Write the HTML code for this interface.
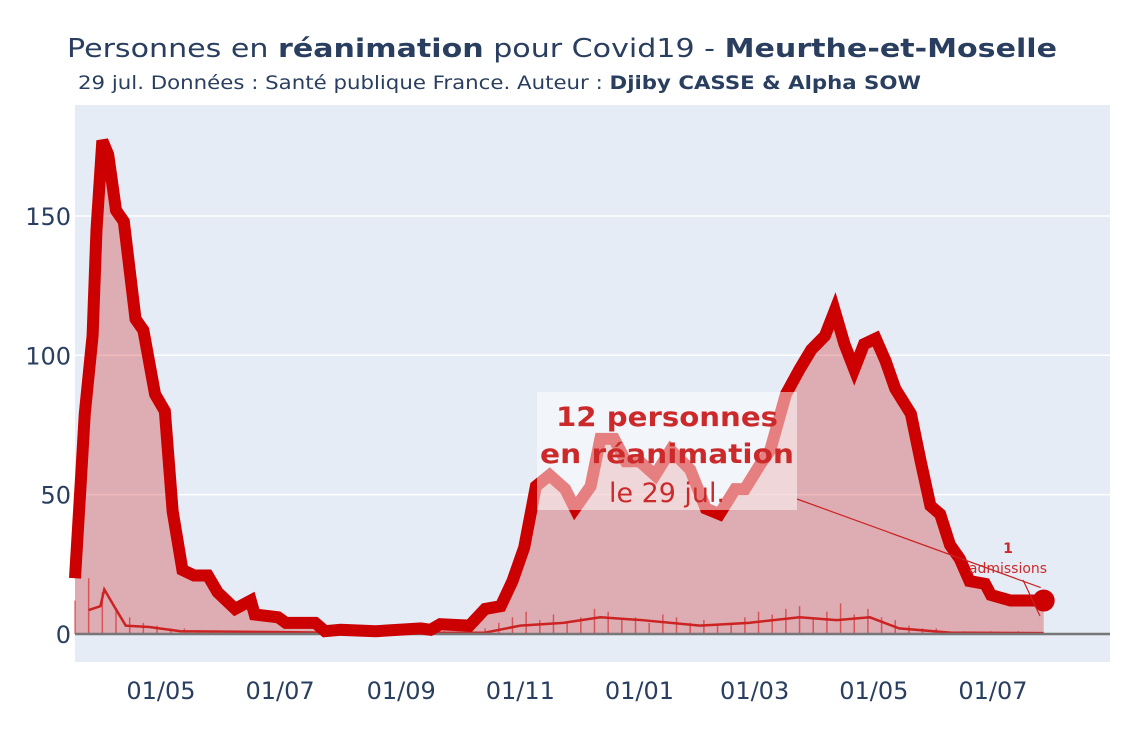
<!DOCTYPE html>
<html><head><meta charset="utf-8"><style>
body{margin:0;background:#fff;}
svg text{font-family:"DejaVu Sans","Liberation Sans",sans-serif;}
</style></head><body>
<svg id="chart" width="1125" height="750">
<rect x="0" y="0" width="1125" height="750" fill="#fff"/>
<rect x="75" y="105" width="1035" height="557" fill="#e5ecf6"/>
<text x="67" y="57" font-size="26" fill="#2a3f5f" textLength="990" lengthAdjust="spacingAndGlyphs">Personnes en <tspan font-weight="bold">réanimation</tspan> pour Covid19 - <tspan font-weight="bold">Meurthe-et-Moselle</tspan></text>
<text x="78" y="89" font-size="19" fill="#2a3f5f" textLength="843" lengthAdjust="spacingAndGlyphs">29 jul. Données : Santé publique France. Auteur : <tspan font-weight="bold">Djiby CASSE &amp; Alpha SOW</tspan></text>
<g id="grid"></g><g id="marks"></g><g id="axes"></g>
</svg>
<script>
const NS='http://www.w3.org/2000/svg';
// day offsets since 2020-03-18 and ICU patients
const reaDays=[0,3,5,9,11,14,17,21,25,31,35,41,46,50,55,61,68,73,82,90,92,104,108,123,128,136,154,177,182,187,202,210,218,224,230,236,243,251,256,264,269,276,282,289,297,305,315,323,330,338,343,351,356,364,371,377,384,389,394,399,404,410,415,420,428,433,438,443,448,453,458,466,469,479,496];
const reaValues=[20,55,79,107,145,177,172,152,148,113,109,86,80,44,23,21,21,15,9,12,7,6,4,4,1,1.5,1,2,1.5,3.5,3,9,10,19,31,53,57,52,45,53,70,70,62,62,57,66,59,45,43,52,52,61,66,86,95,102,107,116,104,95,104,106,98,88,79,62,46,43,32,27,19,18,14,12,12];
// rolling average of daily admissions
const avgDays=[7,13,15,20,26,38,54,100,150,210,228,250,269,290,320,345,371,390,407,422,448,496];
const avgValues=[8.6,10,16,10,3,2.5,1,0.7,0.3,0.5,3,4,6,5,3,4,6,5,6,2,0.5,0.3];
// daily admissions sampled weekly (day = index*7)
const admValues=[12,20,15,9,6,4,3,2,2,1,1,1,0,1,0,0,0,0,0,0,0,0,0,0,0,0,0,1,1,1,2,4,6,8,5,7,4,6,9,8,5,6,4,7,6,4,5,3,4,6,8,7,9,10,6,8,11,7,9,6,5,3,2,2,1,1,0,1,0,1,0,0];
const yTicks=[0,50,100,150];
const xTickDays=[44,105,167,228,289,348,409,470];
const xTickLabels=['01/05','01/07','01/09','01/11','01/01','01/03','01/05','01/07'];
const X=d=>75+d*1.953, Y=v=>634-v*2.787;
function el(t,a,p){const e=document.createElementNS(NS,t);for(const k in a)e.setAttribute(k,a[k]);document.getElementById(p).appendChild(e);return e;}
yTicks.forEach((v,i)=>{
  if(v>0){const g=el('line',{x1:75,x2:1110,y1:Y(v),y2:Y(v),stroke:'#fff','stroke-width':1.5},'grid');
  
  }
  const t=el('text',{x:71,y:Y(v)+9,'text-anchor':'end','font-size':24,fill:'#2a3f5f'},'axes');t.textContent=v;
  
  
});
xTickDays.forEach((d,i)=>{
  const t=el('text',{x:X(d),y:699,'text-anchor':'middle','font-size':24,fill:'#2a3f5f'},'axes');t.textContent=xTickLabels[i];
  
  
});
let pts=reaDays.map((d,i)=>X(d)+','+Y(reaValues[i]));
const last=reaDays.length-1;
const area=el('polygon',{points:X(0)+','+Y(0)+' '+pts.join(' ')+' '+X(reaDays[last])+','+Y(0),fill:'rgba(204,0,0,0.27)'},'marks');


admValues.forEach((v,i)=>{
  const b=el('line',{x1:X(i*7),x2:X(i*7),y1:Y(0),y2:Y(v),stroke:'rgba(204,0,0,0.5)','stroke-width':1.5},'marks');
  
  
});
const avg=el('polyline',{points:avgDays.map((d,i)=>X(d)+','+Y(avgValues[i])).join(' '),fill:'none',stroke:'#cc2222','stroke-width':2.5},'marks');


const zl=el('line',{x1:75,x2:1110,y1:Y(0),y2:Y(0),stroke:'#777','stroke-width':2.5},'marks');


const ln=el('polyline',{points:pts.join(' '),fill:'none',stroke:'#cc0000','stroke-width':12,'stroke-linejoin':'miter'},'marks');


const ex=X(reaDays[last]), ey=Y(reaValues[last]);
const dot=el('circle',{cx:ex,cy:ey,r:11,fill:'#cc0000'},'marks');


const a1=el('line',{x1:797,y1:499,x2:ex-3,y2:ey-13,stroke:'#cc2222','stroke-width':1.2},'marks');


const bx=el('rect',{x:537,y:392,width:260,height:118,fill:'rgba(255,255,255,0.5)'},'marks');


[['12 personnes',426,'bold',222],['en réanimation',463,'bold',254],['le 29 jul.',502,'normal',116]].forEach(r=>{
  const t=el('text',{x:667,y:r[1],'text-anchor':'middle','font-size':27,'font-weight':r[2],fill:'#cc2a2a',textLength:r[3],lengthAdjust:'spacingAndGlyphs'},'marks');t.textContent=r[0];
  
  
});
const a2=el('line',{x1:1023,y1:580,x2:1040,y2:616,stroke:'#cc2222','stroke-width':1.2},'marks');


[['1',553,'bold'],['admissions',573,'normal']].forEach(r=>{
  const t=el('text',{x:1008,y:r[1],'text-anchor':'middle','font-size':14,'font-weight':r[2],fill:'#cc2a2a'},'marks');t.textContent=r[0];
  
  
});
</script>
</body></html>
